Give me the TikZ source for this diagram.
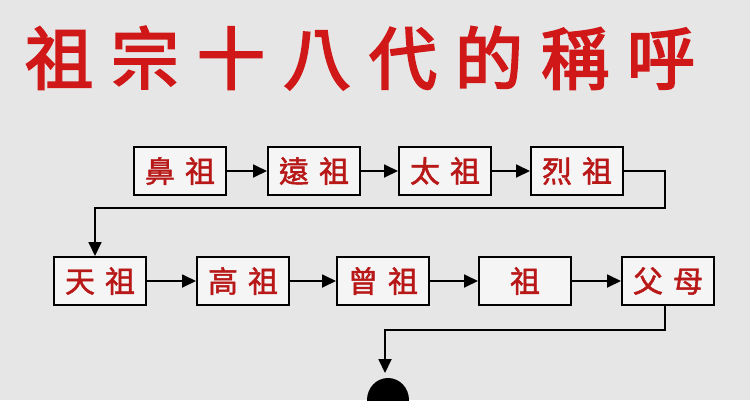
\documentclass[tikz,border=0pt]{standalone}
\usepackage{fontspec}
\newfontfamily\cjk{Noto Sans CJK TC}[FakeBold=1.5]
\newfontfamily\cjkb{Noto Sans CJK TC}[FakeBold=3]
\usetikzlibrary{arrows.meta}
\definecolor{bg}{HTML}{E6E6E6}
\definecolor{tred}{HTML}{D01818}
\definecolor{bred}{HTML}{B81818}
\newcommand{\tg}{\hspace{18pt}}
\begin{document}
\begin{tikzpicture}[x=1pt,y=-1pt,
  gbox/.style={draw=black,line width=2pt,fill=gray!8,minimum width=92pt,minimum height=48pt,inner sep=0pt,font=\cjk\fontsize{30}{30}\selectfont,text=bred},
  conn/.style={draw=black,line width=1.8pt,-{Triangle[length=14pt,width=13pt]}}]
\fill[bg] (0,0) rectangle (750,400);
\useasboundingbox (0,0) rectangle (750,400);
\node[text=tred,font=\cjkb\fontsize{68}{68}\selectfont] (title) at (360,58) {祖\tg 宗\tg 十\tg 八\tg 代\tg 的\tg 稱\tg 呼};
\node[gbox] (a1) at (180,171) {鼻\,\,祖};
\node[gbox] (a2) at (314,171) {遠\,\,祖};
\node[gbox] (a3) at (445,171) {太\,\,祖};
\node[gbox] (a4) at (577,171) {烈\,\,祖};
\node[gbox] (b1) at (100,281) {天\,\,祖};
\node[gbox] (b2) at (243,281) {高\,\,祖};
\node[gbox] (b3) at (383,281) {曾\,\,祖};
\node[gbox] (b4) at (525,281) {祖};
\node[gbox] (b5) at (668,281) {父\,\,母};
\coordinate (c1) at (665,171);
\coordinate (c2) at (665,208);
\coordinate (c3) at (95,208);
\coordinate (d1) at (665,330);
\coordinate (d2) at (385,330);
\coordinate (d3) at (385,373);
\draw[conn] (a1) -- (a2);
\draw[conn] (a2) -- (a3);
\draw[conn] (a3) -- (a4);
\draw[conn] (a4.east) -- (c1) -- (c2) -- (c3) -- (c3 |- b1.north);
\draw[conn] (b1) -- (b2);
\draw[conn] (b2) -- (b3);
\draw[conn] (b3) -- (b4);
\draw[conn] (b4) -- (b5);
\draw[conn] (d1 |- b5.south) -- (d1) -- (d2) -- (d3);
\begin{scope}
\clip (0,0) rectangle (750,400);
\fill[black] (388,400) ellipse[x radius=21,y radius=22];
\fill[black] (367,400) rectangle (409,410);
\end{scope}
\end{tikzpicture}
\end{document}
